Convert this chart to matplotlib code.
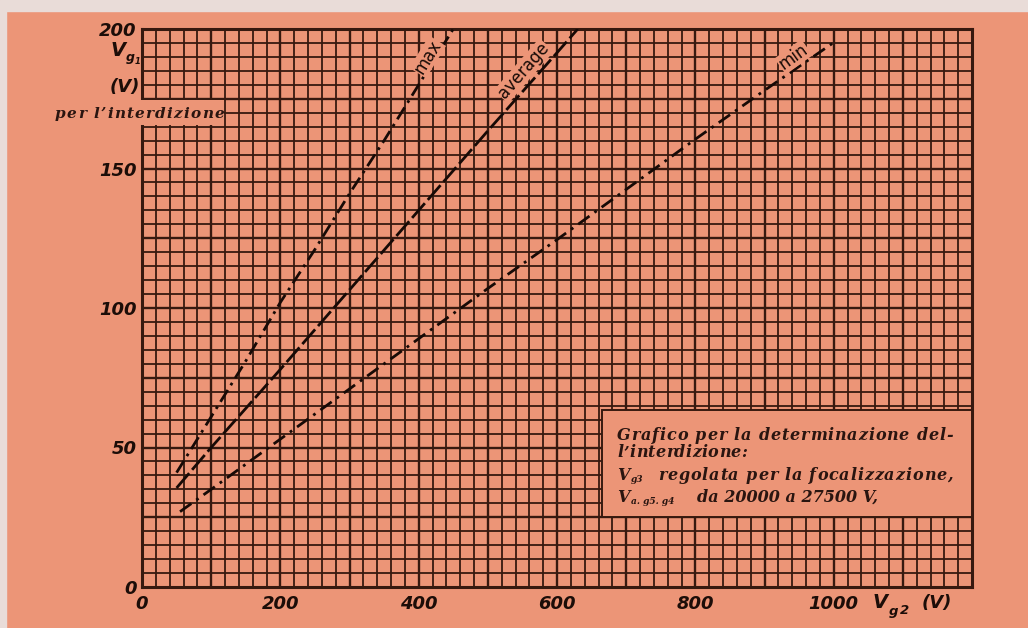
import numpy as np
import matplotlib.pyplot as plt
from matplotlib.patches import Rectangle

# cut-off voltage Vg1 against Vg2
max_vg2 = [50, 100, 150, 200, 250, 300, 350, 400, 450]
max_vg1 = [41, 61, 81, 102, 121, 141, 160, 180, 200]
avg_vg2 = [50, 100, 200, 300, 400, 500, 600, 630]
avg_vg1 = [35.5, 50, 78, 106.5, 135, 163.5, 191.5, 200]
min_vg2 = [55, 100, 200, 300, 400, 500, 600, 700, 800, 900, 1005]
min_vg1 = [27, 35, 53, 71, 89, 107, 124.5, 142.5, 160.5, 178, 196]

curve_names = ["max", "average", "min"]
x_ticks = [0, 200, 400, 600, 800, 1000]
y_ticks = [0, 50, 100, 150, 200]
note_line1 = "Grafico per la determinazione del-"
note_line2 = "l’interdizione:"
note_line3 = "regolata per la focalizzazione,"
note_line4 = "da 20000 a 27500 V,"

PAPER = "#ec9577"
GRID = "#37190f"
INK = "#170a06"
W, H = 1028, 628

fig = plt.figure(figsize=(W / 100, H / 100), dpi=100, facecolor=PAPER)
# scanned page edge (top and left)
fig.patches.append(Rectangle((0, 1 - 11 / H), 1, 11 / H, transform=fig.transFigure,
                             color="#e9dcd8", zorder=0))
fig.patches.append(Rectangle((0, 0), 6 / W, 1, transform=fig.transFigure,
                             color="#e9dcd8", zorder=0))

ax = fig.add_axes([142 / W, 1 - 587 / H, 830 / W, 558 / H])
ax.set_facecolor(PAPER)
ax.set_xlim(0, 1200)
ax.set_ylim(0, 200)

# graph paper
for x in np.arange(20, 1200, 20):
    ax.axvline(x, color=GRID, lw=1.7 if x % 100 == 0 else 1.3, zorder=1)
for y in np.arange(5, 200, 5):
    ax.axhline(y, color=GRID, lw=1.7 if y % 25 == 0 else 1.3, zorder=1)
for s in ax.spines.values():
    s.set_color(GRID)
    s.set_linewidth(2.2)

# blank patch behind "per l'interdizione" and the note box
ax.add_patch(Rectangle((-20, 165.5), 138.5, 9.0, facecolor=PAPER, edgecolor="none",
                       zorder=3, clip_on=False))
ax.add_patch(Rectangle((664.5, 25), 535.5, 38.6, facecolor=PAPER, edgecolor=GRID,
                       lw=1.4, zorder=3))

dash = {"max": (0, (5, 2, 1, 2)), "average": (0, (7, 1.6)), "min": (0, (5, 2.2, 1, 2.2))}
curves = [(max_vg2, max_vg1), (avg_vg2, avg_vg1), (min_vg2, min_vg1)]
for name, (xs, ys) in zip(curve_names, curves):
    ax.plot(xs, ys, color=INK, lw=2.0, ls=dash[name], zorder=4, solid_capstyle="butt")

label_at = {"max": (413, 190), "average": (552, 185), "min": (942, 190)}
for name, (xs, ys) in zip(curve_names, curves):
    slope = (ys[-1] - ys[0]) / (xs[-1] - xs[0])
    lx, ly = label_at[name]
    ax.text(lx, ly, name, rotation=np.degrees(np.arctan(slope)), transform_rotates_text=True,
            rotation_mode="anchor", ha="center", va="center", fontsize=12, color=INK,
            fontfamily="DejaVu Sans", zorder=5,
            bbox=dict(boxstyle="square,pad=0.05", fc=PAPER, ec="none"))

tick_font = dict(fontfamily="DejaVu Sans", fontweight="bold", fontstyle="oblique",
                 fontsize=13, color="#1c0d08")
ax.set_xticks(x_ticks)
ax.set_xticklabels([str(v) for v in x_ticks], **tick_font)
ax.set_yticks(y_ticks)
ax.set_yticklabels([str(v) for v in y_ticks], **tick_font)
ax.tick_params(length=0, pad=4)
ax.tick_params(axis="x", pad=6)


def ftext(px, py, s, **kw):
    return fig.text(px / W, 1 - py / H, s, **kw)


sans = dict(fontfamily="DejaVu Sans", fontweight="bold", fontstyle="oblique", color="#1c0d08")
serif = dict(fontfamily="DejaVu Serif", fontweight="bold", fontstyle="italic", color="#2a1510")

renderer = fig.canvas.get_renderer()


def tracked(text, x0, x1, py, **kw):
    # letter-spaced line running from x0 to x1 (pixels), like the old typesetting
    probe_a = ftext(0, 0, "x x", **kw)
    probe_b = ftext(0, 0, "xx", **kw)
    space_w = (probe_a.get_window_extent(renderer).width
               - probe_b.get_window_extent(renderer).width)
    probe_a.remove()
    probe_b.remove()
    items, widths = [], []
    for c in text:
        if c == " ":
            items.append(None)
            widths.append(space_w)
        else:
            t = ftext(0, py, c, va="baseline", **kw)
            items.append(t)
            widths.append(t.get_window_extent(renderer).width)
    gap = (x1 - x0 - sum(widths)) / (len(text) - 1)
    x = x0
    for t, w in zip(items, widths):
        if t is not None:
            t.set_x(x / W)
        x += w + gap


# axis titles
ftext(118, 50, "V", fontsize=14, ha="center", va="center", **sans)
ftext(130.5, 57, "g", fontsize=9, ha="center", va="center", **sans)
ftext(137.5, 62, "1", fontsize=6, ha="center", va="center", **sans)
ftext(140, 87, "(V)", fontsize=13, ha="right", va="center", **sans)
tracked("per l’interdizione", 55, 224, 118, fontsize=11, **serif)

ftext(880, 603, "V", fontsize=14, ha="center", va="center", **sans)
ftext(893, 611, "g", fontsize=9.5, ha="center", va="center", **sans)
ftext(904.5, 610, "2", fontsize=9.5, ha="center", va="center", **sans)
ftext(952, 603, "(V)", fontsize=13, ha="right", va="center", **sans)

note_font = dict(fontsize=11.5, **serif)
tracked(note_line1, 617, 953, 440, **note_font)
tracked(note_line2, 617, 747, 457, **note_font)
ftext(617, 480, "V", va="baseline", **note_font)
ftext(631, 482, "g3", va="baseline", fontsize=6.5, **serif)
tracked(note_line3, 658, 953, 480, **note_font)
ftext(617, 502, "V", va="baseline", **note_font)
ftext(631, 504, "a. g5. g4", va="baseline", fontsize=6.5, **serif)
ftext(697, 502, note_line4, va="baseline", **note_font)

fig.savefig("out.png", dpi=100, facecolor=PAPER)
